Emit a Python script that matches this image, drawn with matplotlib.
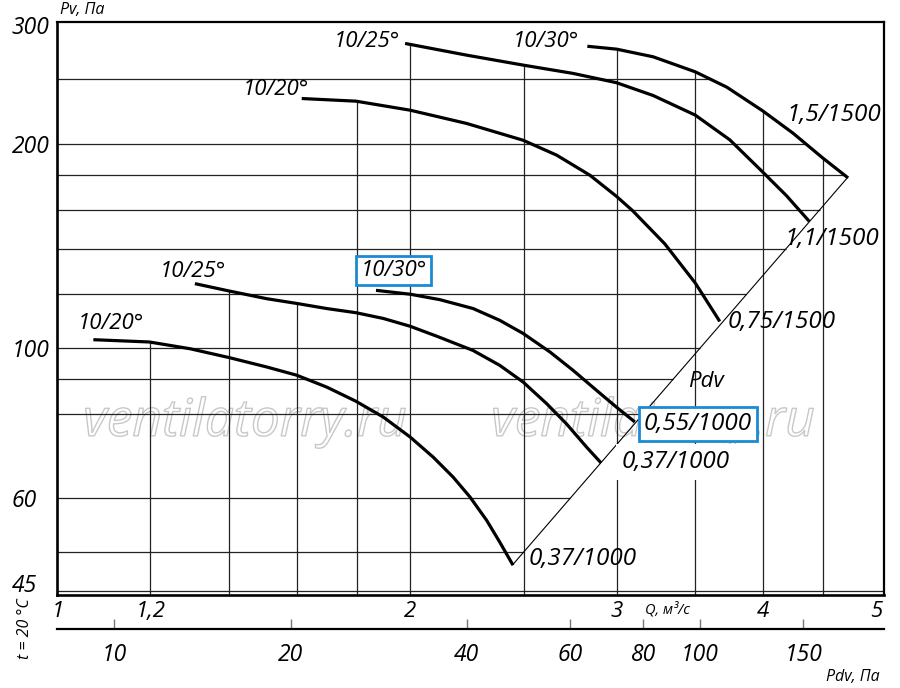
import numpy as np
import matplotlib

matplotlib.use("Agg")
import matplotlib.pyplot as plt
from matplotlib import patheffects

plt.rcParams["font.family"] = ["Open Sans", "DejaVu Sans"]
plt.rcParams["font.style"] = "italic"

# Pv(Q) curves, Q in m3/s, Pv in Pa
# 1000 rpm
q_1000_20 = [1.073, 1.198, 1.297, 1.402, 1.508, 1.600, 1.697, 1.797, 1.897, 2.000,
             2.093, 2.176, 2.249, 2.324, 2.385, 2.448]
p_1000_20 = [102.9, 102.1, 99.8, 96.8, 93.8, 91.2, 87.6, 83.5, 79.1, 73.9,
             69.0, 64.5, 60.3, 55.7, 51.7, 47.8]
q_1000_25 = [1.310, 1.402, 1.508, 1.600, 1.697, 1.797, 1.897, 2.000, 2.108, 2.263,
             2.385, 2.497, 2.615, 2.719, 2.829, 2.910]
p_1000_25 = [124.5, 121.4, 118.3, 116.4, 114.4, 112.8, 110.6, 107.7, 104.1, 99.2,
             94.3, 89.1, 82.8, 77.3, 71.4, 67.7]
q_1000_30 = [1.870, 2.000, 2.120, 2.263, 2.385, 2.497, 2.632, 2.755, 2.885, 3.000, 3.110]
p_1000_30 = [121.7, 120.1, 117.9, 114.4, 109.9, 105.1, 98.7, 92.7, 86.6, 81.8, 77.8]
# 1500 rpm
q_1500_20 = [1.616, 1.798, 2.000, 2.235, 2.497, 2.667, 2.847, 3.000, 3.097, 3.299, 3.503, 3.675]
p_1500_20 = [233.6, 231.5, 224.5, 214.6, 202.7, 192.7, 180.0, 167.5, 159.5, 142.5, 124.7, 109.5]
q_1500_25 = [1.980, 2.235, 2.497, 2.755, 3.000, 3.224, 3.502, 3.748, 3.998, 4.191, 4.381]
p_1500_25 = [281.7, 270.7, 261.7, 254.4, 246.5, 236.0, 220.8, 203.0, 182.0, 167.8, 153.9]
q_1500_30 = [2.833, 3.000, 3.224, 3.502, 3.726, 3.997, 4.243, 4.502, 4.728]
p_1500_30 = [279.0, 276.3, 269.2, 255.8, 242.8, 224.1, 207.7, 190.7, 178.4]

# dynamic pressure Pdv = K * Q^2
K_PDV = 8.0
pdv_q = [2.448, 4.728]

q_ticks = [1, 1.2, 2, 3, 4, 5]
q_tick_labels = ["1", "1,2", "2", "3", "4", "5"]
p_ticks = [45, 60, 100, 200, 300]
p_tick_labels = ["45", "60", "100", "200", "300"]
pdv_ticks = [10, 20, 40, 60, 80, 100, 150]
pdv_tick_labels = ["10", "20", "40", "60", "80", "100", "150"]

grid_q = [1.2, 1.4, 1.6, 1.8, 2, 2.5, 3, 3.5, 4, 4.5]
grid_p = [250, 200, 180, 160, 140, 120, 100, 90, 80, 60, 50]
bottom_line_p = 43.8

curves = [
    (q_1000_20, p_1000_20),
    (q_1000_25, p_1000_25),
    (q_1000_30, p_1000_30),
    (q_1500_20, p_1500_20),
    (q_1500_25, p_1500_25),
    (q_1500_30, p_1500_30),
]

# text labels: (text, Q, Pv)
angle_labels = [
    ("10/20°", 1.111, 108.8),
    ("10/25°", 1.305, 129.9),
    ("10/20°", 1.536, 241.2),
    ("10/25°", 1.837, 283.9),
    ("10/30°", 2.611, 283.9),
]
motor_labels = [
    ("1,5/1500", 4.598, 220.6),
    ("1,1/1500", 4.580, 144.8),
    ("0,75/1500", 4.152, 109.2),
    ("0,37/1000", 2.808, 48.9),
]

fig = plt.figure(figsize=(9, 6.88), dpi=100)
ax = fig.add_axes([57.5 / 900, 1 - 595 / 688, 826 / 900, 573 / 688])
ax.set_xscale("log")
ax.set_yscale("log")
ax.set_xlim(1, 5.07)
ax.set_ylim(43.2, 303)


def top_edge(q):
    best = None
    for cq, cp in curves:
        if cq[0] <= q <= cq[-1]:
            v = np.exp(np.interp(np.log(q), np.log(cq), np.log(cp)))
            best = v if best is None else max(best, v)
    return best


def right_edge(p):
    fq, fp = curves[-1]
    if p <= K_PDV * fq[-1] ** 2:
        return np.sqrt(p / K_PDV)
    return np.exp(np.interp(np.log(p), np.log(fp[::-1]), np.log(fq[::-1])))


grid_kw = dict(color="#222222", lw=0.9, zorder=2)
for q in grid_q:
    ax.vlines(q, 43.2, top_edge(q), **grid_kw)
for p in grid_p:
    ax.hlines(p, 1, right_edge(p), **grid_kw)
ax.axhline(bottom_line_p, **grid_kw)

for cq, cp in curves:
    ax.plot(cq, cp, color="black", lw=2.3, solid_capstyle="butt",
            solid_joinstyle="round", zorder=3)

pq = np.array(pdv_q)
ax.plot(pq, K_PDV * pq**2, color="black", lw=0.8, zorder=3)

# watermark
for wq in (1.445, 3.222):
    ax.text(wq, 77.7, "ventilatorry.ru", fontsize=37, color="white",
            ha="center", va="center", zorder=1,
            path_effects=[patheffects.Stroke(linewidth=1.0, foreground="#c8c8c8")])

for txt, q, p in angle_labels:
    ax.text(q, p, txt, fontsize=16, ha="center", va="center", zorder=4)
for txt, q, p in motor_labels:
    ax.text(q, p, txt, fontsize=17.5, ha="center", va="center", zorder=4)

ax.text(3.371, 67.8, "0,37/1000", fontsize=17.5, ha="center", va="center", zorder=4,
        bbox=dict(boxstyle="square,pad=0.25", fc="white", ec="none"))
box = dict(boxstyle="square,pad=0.2", fc="white", ec="#1a8ad4", lw=2)
ax.text(1.937, 130.2, "10/30°", fontsize=16, ha="center", va="center", zorder=4, bbox=box)
ax.text(3.520, 77.2, "0,55/1000", fontsize=17.5, ha="center", va="center", zorder=4, bbox=box)
ax.text(3.575, 89.3, "Pdv", fontsize=16, ha="center", va="center", zorder=4)

ax.set_xticks(q_ticks, labels=q_tick_labels)
ax.set_xticks([], minor=True)
ax.set_yticks(p_ticks, labels=p_tick_labels)
ax.set_yticks([], minor=True)
ax.tick_params(axis="x", length=0, labelsize=16, pad=4)
ax.tick_params(axis="y", length=0, labelsize=16.5, pad=32.8)
for lab in ax.get_yticklabels():
    lab.set_horizontalalignment("left")

for side in ("left", "bottom"):
    ax.spines[side].set_linewidth(1.9)
for side in ("top", "right"):
    ax.spines[side].set_linewidth(1.6)

secax = ax.secondary_xaxis(
    -34 / 573,
    functions=(lambda q: K_PDV * np.asarray(q) ** 2,
               lambda p: np.sqrt(np.clip(np.asarray(p), 1e-9, None) / K_PDV)),
)
secax.set_xticks(pdv_ticks, labels=pdv_tick_labels)
secax.set_xticks([], minor=True)
secax.tick_params(direction="in", length=7, width=1, color="#777777", labelsize=16.5, pad=10)
secax.spines["bottom"].set_linewidth(1.6)

fig.text(60 / 900, 1 - 10 / 688, "Pv, Па", ha="left", va="center", fontsize=11.5)
fig.text(667 / 900, 1 - 610 / 688, "Q, м³/с", ha="center", va="center", fontsize=10.5)
fig.text(853 / 900, 1 - 677 / 688, "Pdv, Па", ha="center", va="center", fontsize=11.5)
fig.text(25 / 900, 1 - 629 / 688, "t = 20 °C", ha="center", va="center",
         rotation=90, fontsize=11.5)

fig.savefig("out.png", dpi=100)
